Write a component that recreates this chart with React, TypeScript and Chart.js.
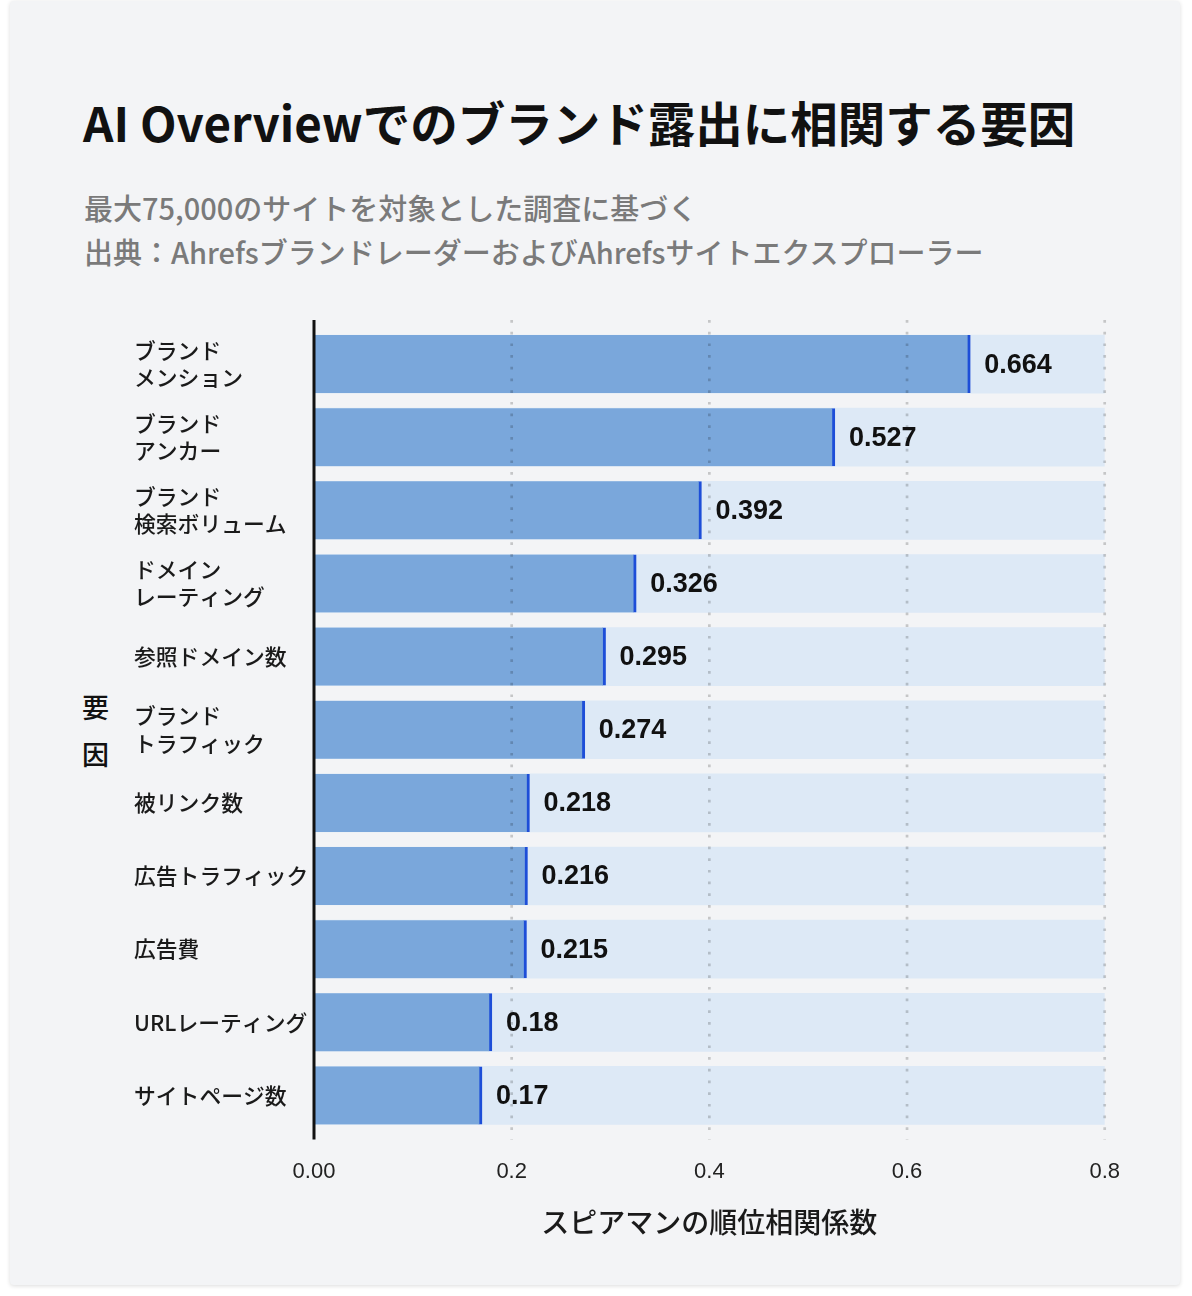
import React, { useEffect, useRef } from 'react';
import Chart from 'chart.js/auto';

// factors, top to bottom
const categories: (string | string[])[] = [
  ['ブランド', 'メンション'],
  ['ブランド', 'アンカー'],
  ['ブランド', '検索ボリューム'],
  ['ドメイン', 'レーティング'],
  '参照ドメイン数',
  ['ブランド', 'トラフィック'],
  '被リンク数',
  '広告トラフィック',
  '広告費',
  'URLレーティング',
  'サイトページ数',
];

// Spearman rank correlation
const values = [0.664, 0.527, 0.392, 0.326, 0.295, 0.274, 0.218, 0.216, 0.215, 0.18, 0.17];

const X_MIN = 0;
const X_MAX = 0.8;
const X_STEP = 0.2;

const JP = "'Noto Sans CJK JP', 'Noto Sans', sans-serif";
const LATIN = "'Liberation Sans', Arial, sans-serif";

// dotted grid on top of the bars, the y axis line, and value labels
const overlayPlugin = {
  id: 'overlay',
  afterDatasetsDraw(chart: any) {
    const { ctx, chartArea, scales } = chart;
    const xs = scales.x;
    const ext = 7.5;
    ctx.save();

    ctx.strokeStyle = 'rgba(0,0,0,0.19)';
    ctx.lineWidth = 2.7;
    ctx.setLineDash([2.7, 9]);
    xs.ticks.forEach((t: any) => {
      if (t.value === X_MIN) return;
      const px = xs.getPixelForValue(t.value);
      ctx.beginPath();
      ctx.moveTo(px, chartArea.top - ext);
      ctx.lineTo(px, chartArea.bottom + ext);
      ctx.stroke();
    });
    ctx.setLineDash([]);

    ctx.strokeStyle = '#111';
    ctx.lineWidth = 3;
    ctx.beginPath();
    ctx.moveTo(chartArea.left, chartArea.top - ext);
    ctx.lineTo(chartArea.left, chartArea.bottom + ext);
    ctx.stroke();

    const meta = chart.getDatasetMeta(0);
    ctx.font = `bold 27px ${LATIN}`;
    ctx.fillStyle = '#111';
    ctx.textAlign = 'left';
    ctx.textBaseline = 'middle';
    meta.data.forEach((bar: any, i: number) => {
      ctx.fillText(String(values[i]), bar.x + 14, bar.y + 1);
    });
    ctx.restore();
  },
};

const BarChart: React.FC = () => {
  const canvasRef = useRef<HTMLCanvasElement | null>(null);

  useEffect(() => {
    if (!canvasRef.current) return;
    const chart = new Chart(canvasRef.current, {
      type: 'bar',
      data: {
        labels: categories,
        datasets: [
          {
            data: values,
            backgroundColor: '#7aa7db',
            borderColor: '#1d4ed8',
            borderWidth: { top: 0, right: 3, bottom: 0, left: 0 },
            borderSkipped: false,
            barThickness: 58,
            grouped: false,
          },
          {
            data: categories.map(() => X_MAX),
            backgroundColor: '#dde9f6',
            borderWidth: 0,
            barThickness: 58,
            grouped: false,
          },
        ],
      },
      options: {
        indexAxis: 'y',
        responsive: true,
        maintainAspectRatio: false,
        animation: false,
        events: [],
        layout: { padding: { left: 34, right: 34, top: 27.5, bottom: 0 } },
        scales: {
          x: {
            type: 'linear',
            min: X_MIN,
            max: X_MAX,
            grid: { display: false, drawTicks: false },
            border: { display: false },
            ticks: {
              stepSize: X_STEP,
              padding: 27,
              color: '#222',
              font: { family: LATIN, size: 22 },
              callback: (v: any) => (Number(v) === 0 ? '0.00' : Number(v).toFixed(1)),
            },
            title: {
              display: true,
              text: 'スピアマンの順位相関係数',
              color: '#1a1a1a',
              font: { family: JP, size: 28, weight: 500 },
              padding: { top: 0, bottom: 11 },
            },
            afterFit: (s: any) => {
              s.height = 118;
            },
          },
          y: {
            grid: { display: false, drawTicks: false },
            border: { display: false },
            ticks: {
              autoSkip: false,
              crossAlign: 'far',
              color: '#1a1a1a',
              font: { family: JP, size: 21.8, weight: 500, lineHeight: 1.25 },
            },
            afterFit: (s: any) => {
              s.width = 180;
            },
          },
        },
        plugins: {
          legend: { display: false },
          tooltip: { enabled: false },
        },
      },
      plugins: [overlayPlugin],
    });
    return () => {
      chart.destroy();
    };
  }, []);

  return (
    <div style={{ position: 'absolute', left: 100, top: 300, width: 1047, height: 950 }}>
      <canvas ref={canvasRef} />
    </div>
  );
};

export default function App() {
  return (
    <div style={{ position: 'absolute', left: 0, top: 0, width: 1192, height: 1296, background: '#fff', overflow: 'hidden' }}>
      <div
        style={{
          position: 'absolute',
          left: 10,
          top: 1,
          width: 1170,
          height: 1284,
          background: '#f3f4f6',
          borderRadius: 4,
          boxShadow: '0 1px 4px rgba(0,0,0,0.14)',
        }}
      />
      <div
        style={{
          position: 'absolute',
          left: 83,
          top: 98,
          fontFamily: JP,
          fontSize: 47.5,
          fontWeight: 700,
          lineHeight: 1,
          color: '#111',
          whiteSpace: 'nowrap',
        }}
      >
        AI Overviewでのブランド露出に相関する要因
      </div>
      <div
        style={{
          position: 'absolute',
          left: 84,
          top: 185,
          fontFamily: JP,
          fontSize: 29,
          fontWeight: 500,
          lineHeight: '44px',
          color: '#7a7a7a',
          whiteSpace: 'nowrap',
        }}
      >
        <div>最大75,000のサイトを対象とした調査に基づく</div>
        <div>出典：AhrefsブランドレーダーおよびAhrefsサイトエクスプローラー</div>
      </div>
      <div
        style={{
          position: 'absolute',
          left: 82,
          top: 683,
          fontFamily: JP,
          fontSize: 27,
          fontWeight: 500,
          lineHeight: '47px',
          color: '#111',
          width: 28,
        }}
      >
        <div>要</div>
        <div>因</div>
      </div>
      <BarChart />
    </div>
  );
}
